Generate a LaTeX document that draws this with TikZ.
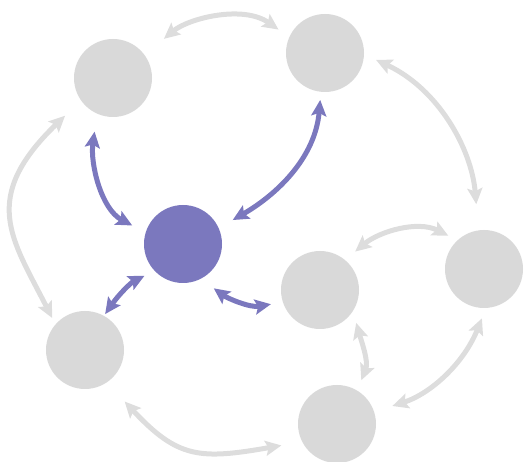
\documentclass[tikz,border=0pt]{standalone}
\usepackage{tikz}
\usetikzlibrary{arrows.meta}
\definecolor{nodegrey}{RGB}{217,217,217}
\definecolor{linkgrey}{RGB}{221,221,221}
\definecolor{hubblue}{RGB}{123,120,190}
\tikzset{member/.style={circle, fill=nodegrey, minimum size=78pt, inner sep=0pt},
  hub/.style={member, fill=hubblue},
  link/.style={draw=linkgrey, line width=5pt, {Stealth[length=16pt,width=15pt,inset=3pt]}-{Stealth[length=16pt,width=15pt,inset=3pt]}},
  hublink/.style={link, draw=hubblue}}

\begin{document}
\begin{tikzpicture}[x=1pt,y=1pt]
                      \useasboundingbox (0,0) rectangle (527,462);
                      \node[member] (tl) at (113,384) {};
                      \node[member] (tm) at (325,409) {};
                      \node[hub] (hub) at (183,218) {};
                      \node[member] (r) at (484,193) {};
                      \node[member] (mr) at (320,172) {};
                      \node[member] (bl) at (85,112) {};
                      \node[member] (b) at (337,38) {};
                      
                      \draw[link, shorten <=25pt, shorten >=13pt](tl.36) to[out=40, in=145] (tm.156);
                      \draw[link, shorten <=13pt, shorten >=26pt](tm.-2) to[out=-25, in=95] (r.98);
                      \draw[link, shorten <=22pt, shorten >=7pt](tl.215) to[out=224, in=117, out looseness=1.6, in looseness=1.1] (bl.139);
                      \draw[link, shorten <=26pt, shorten >=21pt](bl.-56) to[out=-47, in=190, looseness=1.3] (b.207);
                      \draw[link, shorten <=19pt, shorten >=11pt](b.18) to[out=18, in=-112] (r.-87);
                      \draw[link, shorten <=12pt, shorten >=11pt](mr.-33) to[out=-74, in=68] (b.59);
                      \draw[link, shorten <=13pt, shorten >=10pt](mr.50) to[out=40, in=153] (r.133);
                      
                      \draw[hublink, shorten <=18pt, shorten >=15pt](tl.246) to[out=-98, in=152] (hub.163);
                      \draw[hublink, shorten <=8pt, shorten >=16pt](tm.264) to[out=-95, in=30] (hub.24);
                      \draw[hublink, shorten <=2pt, shorten >=11pt](bl.61) to[out=55, in=207] (hub.223);
                      \draw[hublink, shorten <=16pt, shorten >=12pt](hub.-63) to[out=-36, in=190] (mr.198);
             \end{tikzpicture}
\end{document}
